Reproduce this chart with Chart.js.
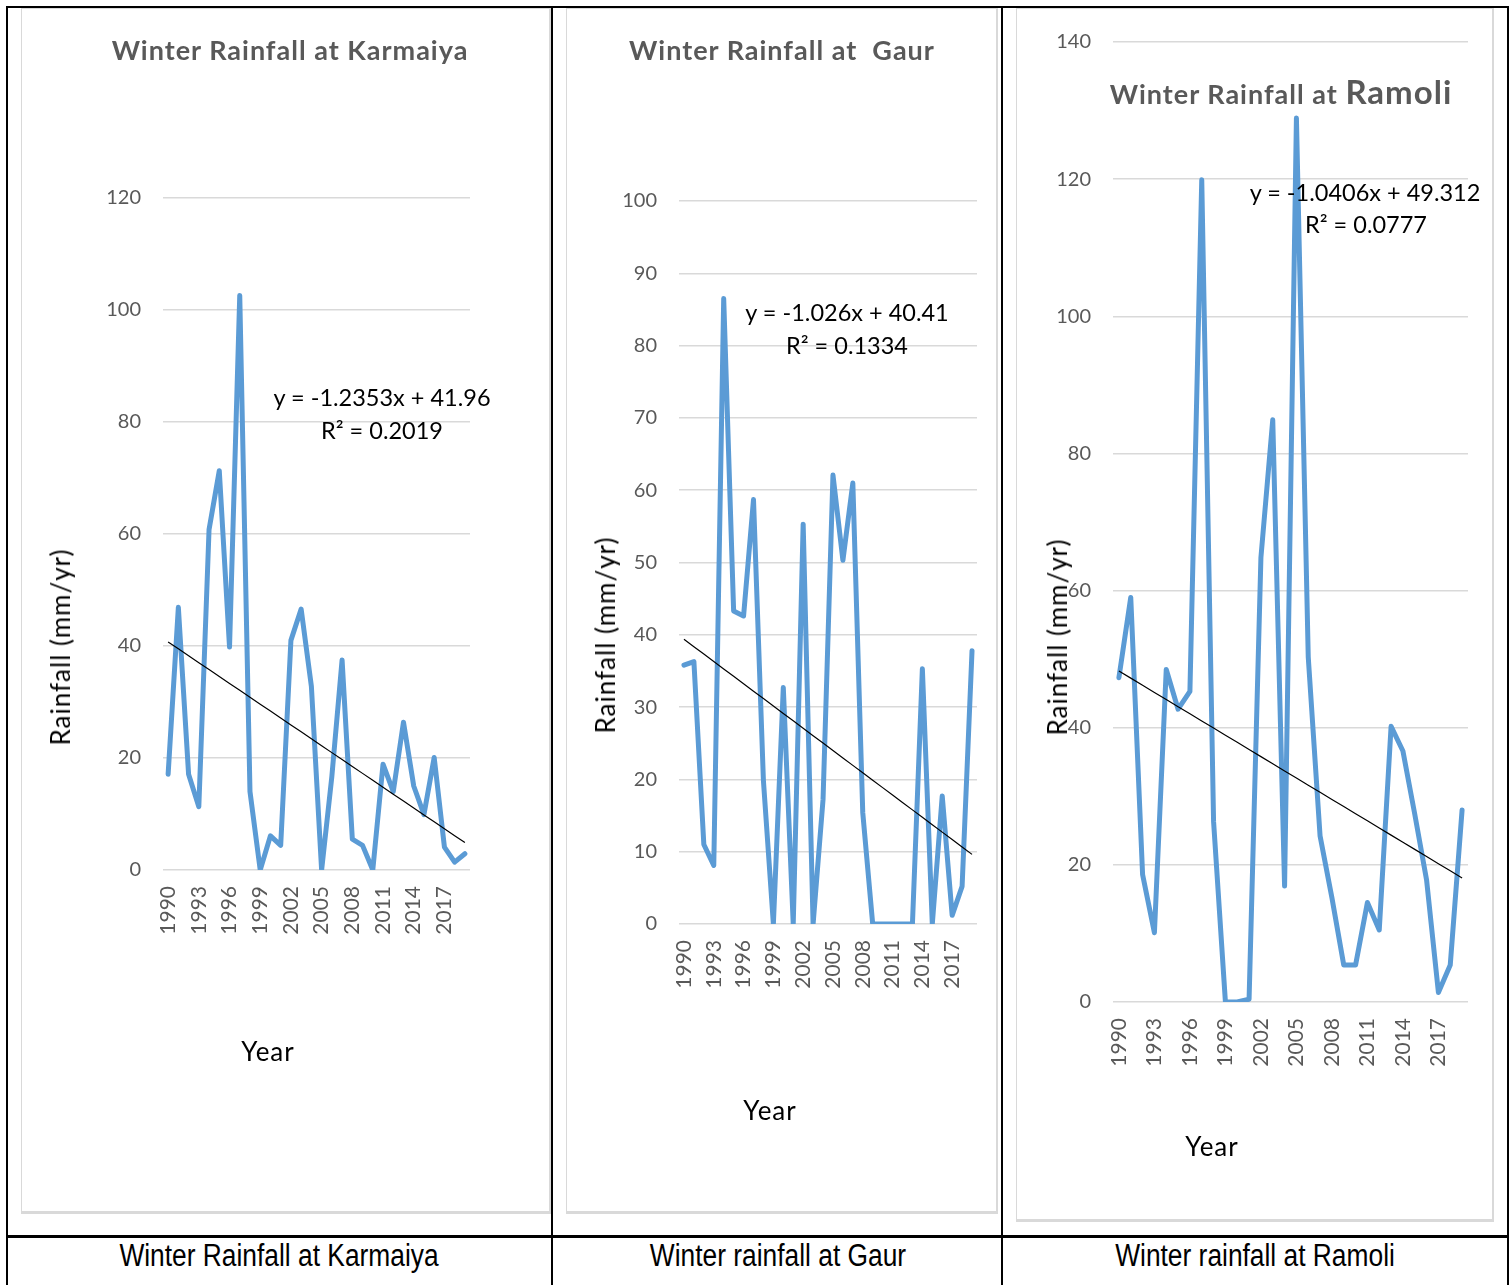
<!DOCTYPE html>
<html>
<head>
<meta charset="utf-8">
<script src="https://cdn.jsdelivr.net/npm/chart.js@4.4.0/dist/chart.umd.min.js"></script>
<style>
  body{margin:0;background:#fff;width:1512px;height:1285px;position:relative;overflow:hidden;font-family:Lato,"Open Sans",sans-serif;}
  .rule{position:absolute;background:#000;}
  .box{position:absolute;box-sizing:border-box;border:1px solid #d9d9d9;border-right-width:2px;border-bottom-width:3px;background:#fff;}
  canvas{position:absolute;}
  .t{position:absolute;white-space:pre;transform:translate(-50%,-50%);}
  .ttl{font-weight:bold;font-size:27px;letter-spacing:1px;color:#595959;}
  .ytl{font-size:26px;letter-spacing:1px;color:#000;transform:translate(-50%,-50%) rotate(-90deg);}
  .yr{font-size:26px;letter-spacing:1px;color:#000;}
  .eq{font-size:23.5px;color:#000;}
  .cap{font-family:"Liberation Sans Narrow","Arial Narrow","Liberation Sans",sans-serif;font-size:31px;color:#000;transform:translate(-50%,-50%) scaleX(0.85);}
</style>
</head>
<body>

<!-- table rules -->
<div class="rule" style="left:6px;top:6px;width:1503px;height:2px"></div>
<div class="rule" style="left:6px;top:6px;width:2px;height:1285px"></div>
<div class="rule" style="left:1507px;top:6px;width:2px;height:1285px"></div>
<div class="rule" style="left:551px;top:6px;width:2px;height:1285px"></div>
<div class="rule" style="left:1001px;top:6px;width:2px;height:1285px"></div>
<div class="rule" style="left:6px;top:1235px;width:1503px;height:3px"></div>

<!-- chart frames -->
<div class="box" style="left:21px;top:8px;width:530px;height:1206px"></div>
<div class="box" style="left:566px;top:8px;width:432px;height:1206px"></div>
<div class="box" style="left:1016px;top:8px;width:478px;height:1214px"></div>

<canvas id="c1" width="530" height="1205" style="left:21px;top:8px"></canvas>
<canvas id="c2" width="431" height="1205" style="left:566px;top:8px"></canvas>
<canvas id="c3" width="476" height="1213" style="left:1017px;top:8px"></canvas>

<!-- Karmaiya texts -->
<div class="t ttl" style="left:290px;top:49px">Winter Rainfall at Karmaiya</div>
<div class="t ytl" style="left:60px;top:647px">Rainfall (mm/yr)</div>
<div class="t yr" style="left:268px;top:1051px">Year</div>
<div class="t eq" style="left:382px;top:397px">y = -1.2353x + 41.96</div>
<div class="t eq" style="left:382px;top:430px">R² = 0.2019</div>

<!-- Gaur texts -->
<div class="t ttl" style="left:782px;top:49px">Winter Rainfall at  Gaur</div>
<div class="t ytl" style="left:605px;top:635px">Rainfall (mm/yr)</div>
<div class="t yr" style="left:770px;top:1110px">Year</div>
<div class="t eq" style="left:847px;top:312px">y = -1.026x + 40.41</div>
<div class="t eq" style="left:847px;top:345px">R² = 0.1334</div>

<!-- Ramoli texts -->
<div class="t ttl" style="left:1281px;top:91px">Winter Rainfall at <span style="font-size:33px">Ramoli</span></div>
<div class="t ytl" style="left:1057px;top:637px">Rainfall (mm/yr)</div>
<div class="t yr" style="left:1212px;top:1146px">Year</div>
<div class="t eq" style="left:1365px;top:192px">y = -1.0406x + 49.312</div>
<div class="t eq" style="left:1366px;top:224px">R² = 0.0777</div>

<!-- captions -->
<div class="t cap" style="left:279px;top:1256px">Winter Rainfall at Karmaiya</div>
<div class="t cap" style="left:778px;top:1256px">Winter rainfall at Gaur</div>
<div class="t cap" style="left:1255px;top:1256px">Winter rainfall at Ramoli</div>

<script>
var years = [];
for (var yy = 1990; yy <= 2019; yy++) years.push(String(yy));

var karmaiya = [17.1, 46.9, 17.1, 11.3, 60.8, 71.3, 39.8, 102.6, 14.0, 0,
                6.1, 4.4, 41.0, 46.6, 32.8, 0, 16.7, 37.5, 5.5, 4.4,
                0, 18.9, 14.0, 26.4, 15.0, 9.9, 20.1, 4.1, 1.4, 2.9];
var gaur = [35.8, 36.3, 11.0, 8.1, 86.5, 43.3, 42.6, 58.7, 19.8, 0,
            32.7, 0, 55.3, 0, 17.2, 62.1, 50.3, 61.0, 15.4, 0,
            0, 0, 0, 0, 35.3, 0, 17.7, 1.2, 5.2, 37.8];
var ramoli = [47.3, 59.0, 18.6, 10.1, 48.5, 42.7, 45.3, 119.9, 26.3, 0,
              0, 0.4, 64.8, 84.9, 16.9, 128.9, 50.3, 24.2, 15.2, 5.4,
              5.4, 14.5, 10.5, 40.2, 36.6, 27.4, 17.8, 1.4, 5.4, 28.0];

// linear trendline coefficients shown on the charts (x = 1..30)
var trendKarmaiya = [-1.2353, 41.96];
var trendGaur = [-1.026, 40.41];
var trendRamoli = [-1.0406, 49.312];

function trend(coef){
  return years.map(function(y, i){ return coef[0] * (i + 1) + coef[1]; });
}

function makeChart(id, values, coef, yMax, yStep, yWidth, pad){
  var ctx = document.getElementById(id).getContext('2d');
  return new Chart(ctx, {
    type: 'line',
    data: {
      labels: years,
      datasets: [
        {data: trend(coef), borderColor: '#000', borderWidth: 1.2, pointRadius: 0, fill: false},
        {data: values, borderColor: '#5b9bd5', borderWidth: 5, pointRadius: 0, fill: false,
         borderJoinStyle: 'round', borderCapStyle: 'round', tension: 0}
      ]
    },
    options: {
      responsive: false,
      animation: false,
      devicePixelRatio: 1,
      layout: {padding: pad},
      plugins: {legend: {display: false}, tooltip: {enabled: false}, title: {display: false}},
      scales: {
        x: {
          offset: true,
          grid: {display: false},
          border: {display: false},
          afterFit: function(s){ s.height = 80; },
          ticks: {
            autoSkip: false, minRotation: 90, maxRotation: 90, padding: 8,
            color: '#595959', font: {family: 'Lato', size: 21},
            callback: function(v, i){ return i % 3 === 0 ? this.getLabelForValue(v) : null; }
          }
        },
        y: {
          min: 0, max: yMax,
          grid: {color: '#d9d9d9', lineWidth: 1.5, drawTicks: false},
          border: {display: false},
          afterFit: function(s){ s.width = yWidth; },
          ticks: {stepSize: yStep, padding: 22, color: '#595959', font: {family: 'Lato', size: 20}}
        }
      }
    }
  });
}

makeChart('c1', karmaiya, trendKarmaiya, 120, 20, 142, {top: 190, right: 81, bottom: 263, left: 0});
makeChart('c2', gaur, trendGaur, 100, 10, 113, {top: 193, right: 20, bottom: 209, left: 0});
makeChart('c3', ramoli, trendRamoli, 140, 20, 96, {top: 33, right: 25, bottom: 139, left: 0});
</script>
</body>
</html>
